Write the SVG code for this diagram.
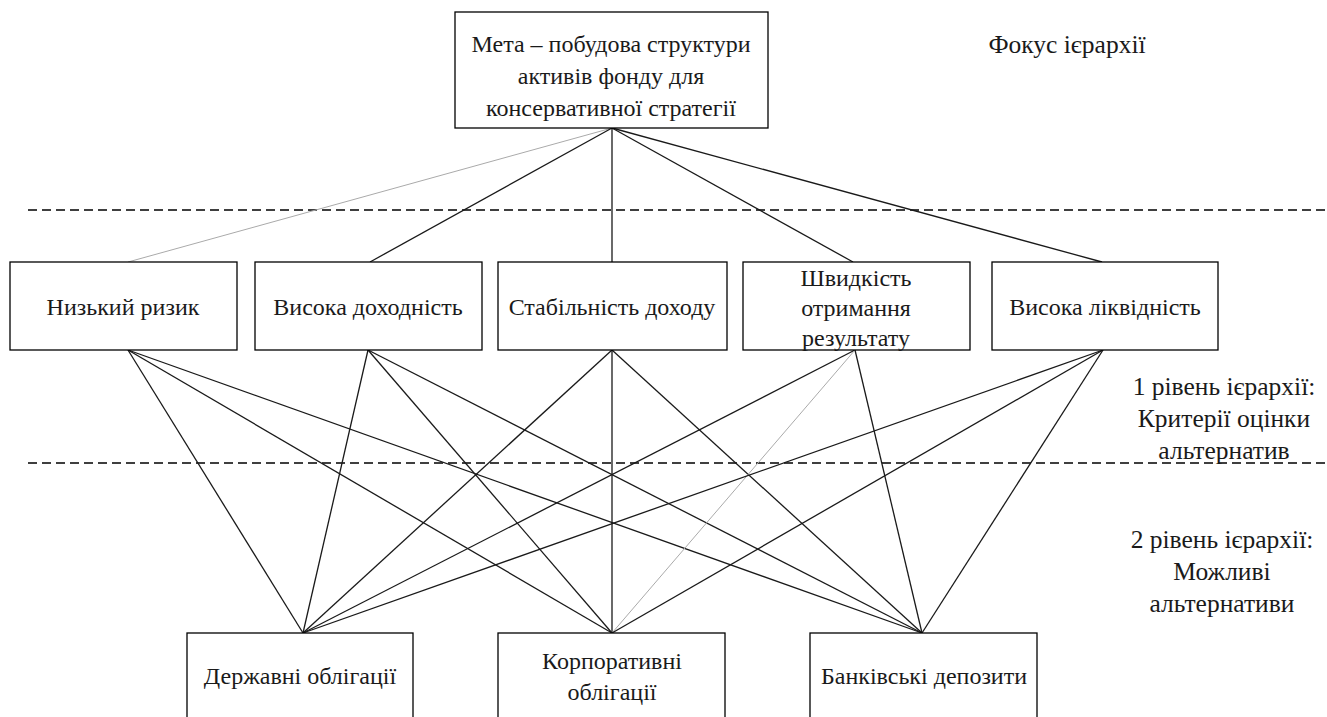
<svg xmlns="http://www.w3.org/2000/svg" width="1327" height="717" viewBox="0 0 1327 717">
<style>
.box{fill:#fff;stroke:#000;stroke-width:1.3}
.t{font-family:"Liberation Serif","Times New Roman",serif;font-size:24px;fill:#1a1a1a;text-anchor:middle}
.l{font-size:25.5px}
.c{stroke:#1a1a1a;stroke-width:1.3;fill:none}
.g{stroke:#aaa;stroke-width:1;fill:none}
.d{stroke:#000;stroke-width:1.3;stroke-dasharray:9 5;fill:none}
</style>
<rect width="1327" height="717" fill="#fff"/>
<g id="dividers">
<line class="d" x1="28" y1="210" x2="1327" y2="210"/>
<line class="d" x1="28" y1="463" x2="1327" y2="463"/>
</g>
<g id="connectors">
<line class="g" x1="612" y1="128" x2="128" y2="262"/>
<line class="c" x1="612" y1="128" x2="370" y2="262"/>
<line class="c" x1="612" y1="128" x2="612" y2="262"/>
<line class="c" x1="612" y1="128" x2="853" y2="262"/>
<line class="c" x1="612" y1="128" x2="1102" y2="262"/>
<line class="c" x1="128" y1="350" x2="303" y2="633"/>
<line class="c" x1="128" y1="350" x2="612" y2="633"/>
<line class="c" x1="128" y1="350" x2="922" y2="633"/>
<line class="c" x1="368" y1="350" x2="303" y2="633"/>
<line class="c" x1="368" y1="350" x2="612" y2="633"/>
<line class="c" x1="368" y1="350" x2="922" y2="633"/>
<line class="c" x1="612" y1="350" x2="303" y2="633"/>
<line class="c" x1="612" y1="350" x2="612" y2="633"/>
<line class="c" x1="612" y1="350" x2="922" y2="633"/>
<line class="c" x1="855" y1="350" x2="303" y2="633"/>
<line class="g" x1="855" y1="350" x2="612" y2="633"/>
<line class="c" x1="855" y1="350" x2="922" y2="633"/>
<line class="c" x1="1103" y1="350" x2="303" y2="633"/>
<line class="c" x1="1103" y1="350" x2="612" y2="633"/>
<line class="c" x1="1103" y1="350" x2="922" y2="633"/>
</g>
<g id="goal">
<rect class="box" x="455" y="12" width="313" height="116"/>
<text class="t" x="611" y="52">Мета – побудова структури</text>
<text class="t" x="611" y="84">активів фонду для</text>
<text class="t" x="611" y="116">консервативної стратегії</text>
</g>
<g id="c1"><rect class="box" x="10" y="262" width="227" height="88"/><text class="t" x="123" y="315">Низький ризик</text></g>
<g id="c2"><rect class="box" x="255" y="262" width="227" height="88"/><text class="t" x="368" y="315">Висока доходність</text></g>
<g id="c3"><rect class="box" x="498" y="262" width="229" height="88"/><text class="t" x="612" y="315">Стабільність доходу</text></g>
<g id="c4"><rect class="box" x="743" y="262" width="227" height="88"/><text class="t" x="856" y="286">Швидкість</text><text class="t" x="856" y="316">отримання</text><text class="t" x="856" y="346">результату</text></g>
<g id="c5"><rect class="box" x="992" y="262" width="226" height="88"/><text class="t" x="1105" y="315">Висока ліквідність</text></g>
<g id="a1"><rect class="box" x="187" y="633" width="226" height="100"/><text class="t" x="300" y="684">Державні облігації</text></g>
<g id="a2"><rect class="box" x="498" y="633" width="227" height="100"/><text class="t" x="612" y="669">Корпоративні</text><text class="t" x="612" y="700">облігації</text></g>
<g id="a3"><rect class="box" x="810" y="633" width="227" height="100"/><text class="t" x="924" y="684">Банківські депозити</text></g>
<g id="labels">
<text class="t l" x="1067" y="53">Фокус ієрархії</text>
<text class="t l" x="1224" y="395">1 рівень ієрархії:</text>
<text class="t l" x="1224" y="427">Критерії оцінки</text>
<text class="t l" x="1224" y="459">альтернатив</text>
<text class="t l" x="1222" y="548">2 рівень ієрархії:</text>
<text class="t l" x="1222" y="580">Можливі</text>
<text class="t l" x="1222" y="612">альтернативи</text>
</g>
</svg>
